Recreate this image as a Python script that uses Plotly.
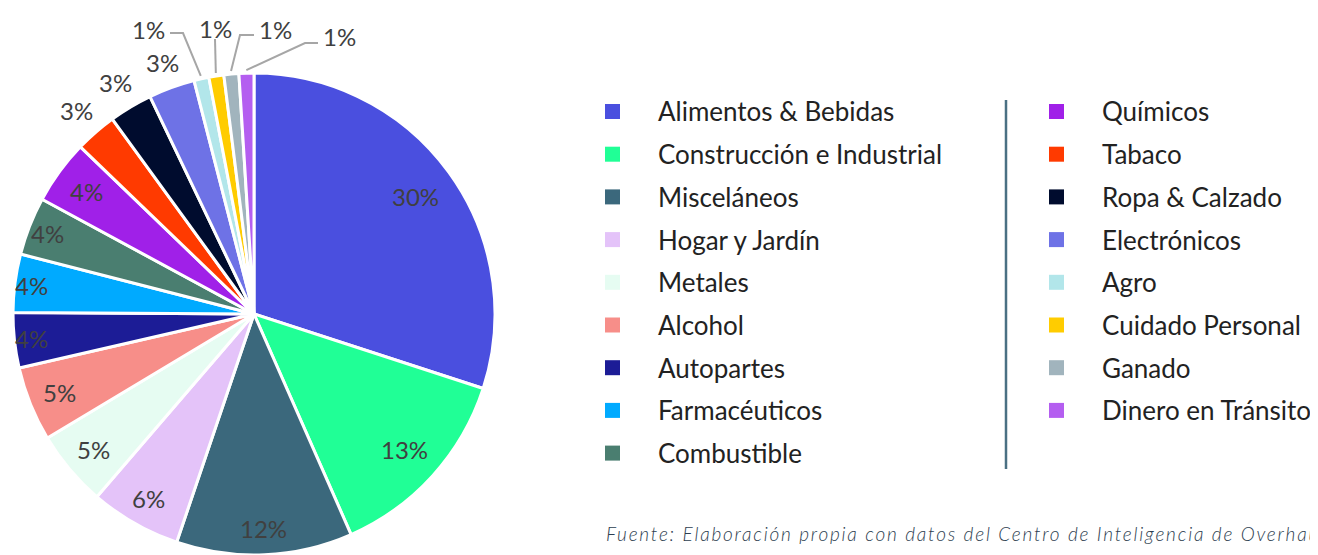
import math
import plotly.graph_objects as go

categories = ["Alimentos & Bebidas", "Construcción e Industrial", "Misceláneos", "Hogar y Jardín",
              "Metales", "Alcohol", "Autopartes", "Farmacéuticos", "Combustible",
              "Químicos", "Tabaco", "Ropa & Calzado", "Electrónicos", "Agro",
              "Cuidado Personal", "Ganado", "Dinero en Tránsito"]
values = [30.0, 13.4, 11.8, 6.1, 5.1, 5.0, 3.7, 3.9, 3.9, 4.3, 2.8, 2.9, 3.1, 1.0, 1.0, 1.0, 1.0]
colors = ["#4a4fdf", "#20ff96", "#3b687c", "#e4c3f9", "#e6fcf2", "#f78e89", "#1c1c96", "#00aaff",
          "#4a7e70", "#a020e8", "#ff3a00", "#000c2e", "#6e72e6", "#b2e6ea", "#ffcc00", "#a1b4bd", "#b45ef0"]
source = "Fuente: Elaboración propia con datos del Centro de Inteligencia de Overhaul"

# label placement styles (radius factor for labels, leader-line label text positions in px)
label_rf = [0.83, 0.84, 0.89, 0.88, 0.87, 0.87, 0.93, 0.93, 0.92, 0.86, 1.12, 1.12, 1.11]
leader_text = [(148, 29), (215, 28), (275, 29), (339, 37)]
leader_elbow = [(183, 33), (215, 39), (240, 35), (305, 43)]
leader_end = [(170, 33), (215, 39), (254, 35), (318, 43)]

OFF = 8  # page offset of the figure inside the window
W, H = 1318 - OFF, 555 - OFF
CX, CY, R = 254, 314, 241  # window px


def px(x, y):
    return (x - OFF) / W, 1 - (y - OFF) / H


fig = go.Figure()
dx0, dy0 = px(CX - R, CY + R)
dx1, dy1 = px(CX + R, CY - R)
fig.add_trace(go.Pie(
    labels=categories, values=values, sort=False, direction="clockwise", rotation=0,
    marker=dict(colors=colors, line=dict(color="white", width=3)),
    textinfo="none", textposition="none",
    domain=dict(x=[dx0, dx1], y=[max(dy0, 0), min(dy1, 1)]),
    showlegend=False, hoverinfo="label+percent",
))

label_font = dict(family="Lato", size=24, color="#404040")
total = sum(values)
cum = 0.0
for i, v in enumerate(values):
    a0 = cum / total
    cum += v
    a1 = cum / total
    mid = (a0 + a1) / 2 * 2 * math.pi
    pct = f"{round(v / total * 100):.0f}%"
    if i < len(label_rf):
        rr = R * label_rf[i]
        x = CX + rr * math.sin(mid)
        y = CY - rr * math.cos(mid)
        xx, yy = px(x, y)
        fig.add_annotation(x=xx, y=yy, xref="paper", yref="paper", text=pct, showarrow=False,
                           xanchor="center", yanchor="middle", font=label_font)
    else:
        k = i - len(label_rf)
        rx = CX + (R + 3) * math.sin(mid)
        ry = CY - (R + 3) * math.cos(mid)
        ex, ey = leader_elbow[k]
        fx, fy = leader_end[k]
        p0, p1, p2 = px(rx, ry), px(ex, ey), px(fx, fy)
        fig.add_shape(type="path", xref="paper", yref="paper",
                      path=f"M {p0[0]} {p0[1]} L {p1[0]} {p1[1]} L {p2[0]} {p2[1]}",
                      line=dict(color="#a6a6a6", width=2))
        tx, ty = px(*leader_text[k])
        fig.add_annotation(x=tx, y=ty, xref="paper", yref="paper", text=pct, showarrow=False,
                           xanchor="center", yanchor="middle", font=label_font)

# custom two-column legend
rows_per_col = 9
row0 = 111.5
row_gap = 42.7
for i, (cat, col) in enumerate(zip(categories, colors)):
    c = i // rows_per_col
    r = i % rows_per_col
    y = row0 + r * row_gap
    xs = 605 if c == 0 else 1049
    xt = 656 if c == 0 else 1100
    sx0, sy0 = px(xs, y - 7.5)
    sx1, sy1 = px(xs + 15, y + 7.5)
    fig.add_shape(type="rect", xref="paper", yref="paper",
                  x0=sx0, x1=sx1, y0=sy0, y1=sy1, fillcolor=col, line=dict(width=0))
    tx, ty = px(xt, y)
    fig.add_annotation(x=tx, y=ty, xref="paper", yref="paper", text=cat,
                       showarrow=False, xanchor="left", yanchor="middle",
                       font=dict(family="Lato", size=26, color="#222222"))

lx0, ly0 = px(1006, 100)
lx1, ly1 = px(1006, 469)
fig.add_shape(type="line", xref="paper", yref="paper", x0=lx0, x1=lx1,
              y0=ly0, y1=ly1, line=dict(color="#4a7083", width=2.5))

sx, sy = px(604, 533)
fig.add_annotation(x=sx, y=sy, xref="paper", yref="paper",
                   text=f'<span style="letter-spacing:1.8px">{source}</span>',
                   showarrow=False, xanchor="left", yanchor="middle",
                   font=dict(family="Lato", size=19, color="#2d3e50", style="italic", weight=300))

fig.update_layout(width=W, height=H, margin=dict(l=0, r=0, t=0, b=0),
                  paper_bgcolor="white", plot_bgcolor="white")
fig.write_html("out.html")
